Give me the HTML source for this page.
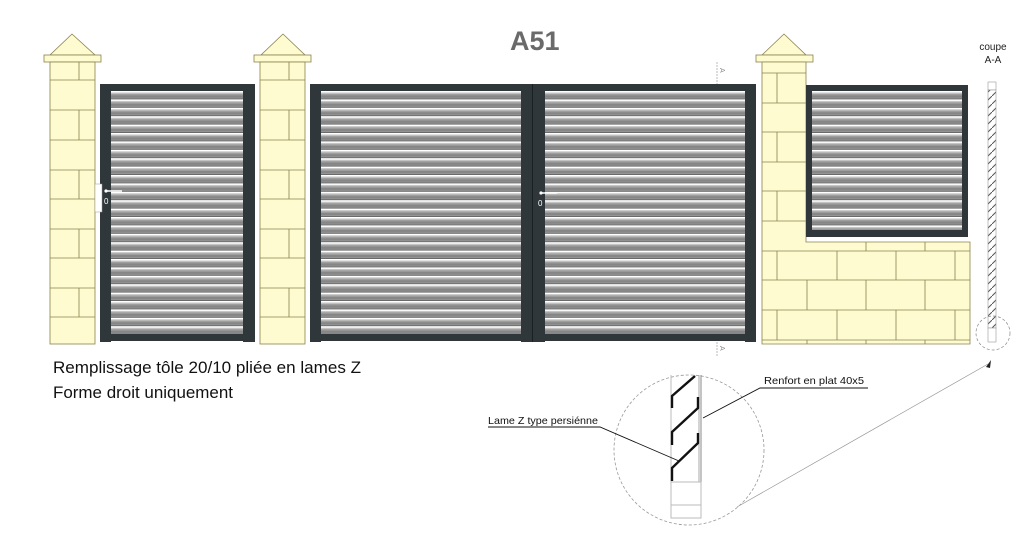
<!DOCTYPE html>
<html><head><meta charset="utf-8"><style>
html,body{margin:0;padding:0;background:#fff;width:1024px;height:539px;overflow:hidden}
svg{display:block}
text{font-family:"Liberation Sans","DejaVu Sans",sans-serif}
</style></head><body>
<svg width="1024" height="539" viewBox="0 0 1024 539" xmlns="http://www.w3.org/2000/svg">
<defs>
<pattern id="slat" x="0" y="91" width="10" height="8.4" patternUnits="userSpaceOnUse">
<rect width="10" height="8.4" fill="#9e9e9e"/>
<rect y="0" width="10" height="1.5" fill="#ffffff"/>
<rect y="1.5" width="10" height="1.3" fill="#c8c8c8"/>
<rect y="4.4" width="10" height="2.4" fill="#868686"/>
<rect y="7.4" width="10" height="1" fill="#6a6a6a"/>
</pattern>
<pattern id="hatch" width="8" height="8" patternUnits="userSpaceOnUse">
<rect width="8" height="8" fill="#fff"/>
<line x1="0" y1="8" x2="8" y2="0" stroke="#555" stroke-width="1"/>
</pattern>
</defs>

<text x="510" y="50" font-size="27" font-weight="bold" fill="#6a6a6a" font-family="DejaVu Sans,sans-serif">A51</text>

<!-- Pillar 1 -->
<g stroke="#8a8250" stroke-width="0.8" fill="#fdfbcf">
<polygon points="72,34 50,55 95,55"/>
<rect x="44" y="55" width="57" height="7"/>
<rect x="50" y="62" width="45" height="282"/>
</g>
<g stroke="#8a8250" stroke-width="0.8">
<line x1="50" y1="80" x2="95" y2="80"/><line x1="50" y1="110" x2="95" y2="110"/><line x1="50" y1="140" x2="95" y2="140"/><line x1="50" y1="170" x2="95" y2="170"/><line x1="50" y1="199" x2="95" y2="199"/><line x1="50" y1="229" x2="95" y2="229"/><line x1="50" y1="258" x2="95" y2="258"/><line x1="50" y1="288" x2="95" y2="288"/><line x1="50" y1="317" x2="95" y2="317"/>
<line x1="79" y1="62" x2="79" y2="80"/><line x1="79" y1="110" x2="79" y2="140"/><line x1="79" y1="170" x2="79" y2="199"/><line x1="79" y1="229" x2="79" y2="258"/><line x1="79" y1="288" x2="79" y2="317"/>
</g>

<!-- Pillar 2 -->
<g stroke="#8a8250" stroke-width="0.8" fill="#fdfbcf">
<polygon points="283,34 261,55 305,55"/>
<rect x="254" y="55" width="57" height="7"/>
<rect x="260" y="62" width="45" height="282"/>
</g>
<g stroke="#8a8250" stroke-width="0.8">
<line x1="260" y1="80" x2="305" y2="80"/><line x1="260" y1="110" x2="305" y2="110"/><line x1="260" y1="140" x2="305" y2="140"/><line x1="260" y1="170" x2="305" y2="170"/><line x1="260" y1="199" x2="305" y2="199"/><line x1="260" y1="229" x2="305" y2="229"/><line x1="260" y1="258" x2="305" y2="258"/><line x1="260" y1="288" x2="305" y2="288"/><line x1="260" y1="317" x2="305" y2="317"/>
<line x1="289" y1="62" x2="289" y2="80"/><line x1="289" y1="110" x2="289" y2="140"/><line x1="289" y1="170" x2="289" y2="199"/><line x1="289" y1="229" x2="289" y2="258"/><line x1="289" y1="288" x2="289" y2="317"/>
</g>

<!-- Pillar 3 + wall -->
<g stroke="#8a8250" stroke-width="0.8" fill="#fdfbcf">
<polygon points="784,34 762,55 806,55"/>
<rect x="756" y="55" width="57" height="7"/>
<path d="M762,62 H806 V242 H970 V344 H762 Z"/>
</g>
<g stroke="#8a8250" stroke-width="0.8">
<line x1="762" y1="73" x2="806" y2="73"/><line x1="762" y1="103" x2="806" y2="103"/><line x1="762" y1="132" x2="806" y2="132"/><line x1="762" y1="162" x2="806" y2="162"/><line x1="762" y1="191" x2="806" y2="191"/><line x1="762" y1="221" x2="806" y2="221"/>
<line x1="777" y1="73" x2="777" y2="103"/><line x1="777" y1="132" x2="777" y2="162"/><line x1="777" y1="191" x2="777" y2="221"/>
<line x1="762" y1="251" x2="970" y2="251"/>
<line x1="762" y1="280" x2="970" y2="280"/><line x1="762" y1="310" x2="970" y2="310"/><line x1="762" y1="340" x2="970" y2="340"/>
<line x1="866" y1="242" x2="866" y2="251"/><line x1="925" y1="242" x2="925" y2="251"/>
<line x1="777" y1="251" x2="777" y2="280"/><line x1="837" y1="251" x2="837" y2="280"/><line x1="896" y1="251" x2="896" y2="280"/><line x1="955" y1="251" x2="955" y2="280"/>
<line x1="807" y1="280" x2="807" y2="310"/><line x1="866" y1="280" x2="866" y2="310"/><line x1="925" y1="280" x2="925" y2="310"/>
<line x1="777" y1="310" x2="777" y2="340"/><line x1="837" y1="310" x2="837" y2="340"/><line x1="896" y1="310" x2="896" y2="340"/><line x1="955" y1="310" x2="955" y2="340"/>
<line x1="807" y1="340" x2="807" y2="344"/><line x1="866" y1="340" x2="866" y2="344"/><line x1="925" y1="340" x2="925" y2="344"/>
</g>

<!-- Gate 1 -->
<rect x="111" y="91" width="132" height="243" fill="url(#slat)"/>
<g fill="#2f373b">
<rect x="100" y="84" width="11" height="258"/>
<rect x="243" y="84" width="12" height="258"/>
<rect x="111" y="84" width="132" height="7"/>
<rect x="111" y="334" width="132" height="7"/>
</g>
<rect x="95" y="184" width="7" height="28" fill="#fff" stroke="#999" stroke-width="0.5"/>
<line x1="106" y1="191" x2="122" y2="191" stroke="#fff" stroke-width="1.5"/>
<circle cx="106" cy="191" r="1.6" fill="#fff"/>
<text x="104" y="204" font-size="8" fill="#fff">0</text>

<!-- Gate 2 -->
<rect x="321" y="91" width="424" height="243" fill="url(#slat)"/>
<g fill="#2f373b">
<rect x="310" y="84" width="11" height="258"/>
<rect x="521" y="84" width="11" height="258"/>
<rect x="533" y="84" width="12" height="258"/>
<rect x="745" y="84" width="11" height="258"/>
<rect x="321" y="84" width="424" height="7"/>
<rect x="321" y="334" width="424" height="7"/>
</g>
<line x1="532.5" y1="84" x2="532.5" y2="342" stroke="#1a1f22" stroke-width="1"/>
<line x1="541" y1="193" x2="557" y2="193" stroke="#fff" stroke-width="1.5"/>
<circle cx="541" cy="193" r="1.6" fill="#fff"/>
<text x="538" y="206" font-size="8" fill="#fff">0</text>

<!-- section markers -->
<line x1="717" y1="62" x2="717" y2="84" stroke="#bbb" stroke-dasharray="2,1"/>
<text x="720" y="72" font-size="7" fill="#888" transform="rotate(90 722 70)">A</text>
<line x1="717" y1="342" x2="717" y2="356" stroke="#bbb" stroke-dasharray="2,1"/>
<text x="720" y="350" font-size="7" fill="#888" transform="rotate(90 722 348)">A</text>

<!-- Fence panel -->
<rect x="812" y="91" width="150" height="142" fill="url(#slat)"/>
<g fill="#2f373b">
<rect x="806" y="85" width="162" height="6"/>
<rect x="806" y="230" width="162" height="7"/>
<rect x="806" y="85" width="6" height="152"/>
<rect x="962" y="85" width="6" height="152"/>
</g>

<!-- Coupe A-A -->
<text x="993" y="50" font-size="10" text-anchor="middle" fill="#222">coupe</text>
<text x="993" y="63" font-size="10" text-anchor="middle" fill="#222">A-A</text>
<rect x="988" y="82" width="8" height="8" fill="#fff" stroke="#999" stroke-width="0.6"/>
<rect x="988" y="90" width="8" height="238" fill="url(#hatch)" stroke="#999" stroke-width="0.6"/>
<rect x="988" y="328" width="8" height="14" fill="#fff" stroke="#999" stroke-width="0.6"/>
<circle cx="993" cy="333" r="17" fill="none" stroke="#888" stroke-width="0.7" stroke-dasharray="3,2"/>
<line x1="737" y1="507" x2="988" y2="364" stroke="#999" stroke-width="0.7"/>
<polygon points="991,360 986,367 990,368" fill="#222"/>

<!-- Detail circle -->
<circle cx="689" cy="450" r="75" fill="none" stroke="#999" stroke-width="0.8" stroke-dasharray="3,2"/>
<line x1="671" y1="375" x2="671" y2="482" stroke="#bbb" stroke-width="1"/>
<line x1="699" y1="375" x2="699" y2="482" stroke="#aaa" stroke-width="1"/>
<line x1="701" y1="375" x2="701" y2="482" stroke="#888" stroke-width="1"/>
<rect x="671" y="482" width="30" height="23" fill="#fff" stroke="#bbb" stroke-width="1"/>
<rect x="671" y="505" width="30" height="13" fill="#fff" stroke="#bbb" stroke-width="1"/>
<g stroke="#111" stroke-width="2.4" fill="none">
<polyline points="672,408 672,396 695,376"/>
<polyline points="672,445 672,432 698,408 698,397"/>
<polyline points="672,481 672,468 698,443 698,433"/>
</g>
<!-- labels -->
<text x="764" y="384" font-size="10.5" fill="#111" textLength="100" lengthAdjust="spacingAndGlyphs">Renfort en plat 40x5</text>
<polyline points="868,388 760,388 703,418" fill="none" stroke="#111" stroke-width="0.9"/>
<text x="488" y="424" font-size="10.5" fill="#111" textLength="110" lengthAdjust="spacingAndGlyphs">Lame Z type persiénne</text>
<polyline points="488,427 600,427 679,461" fill="none" stroke="#111" stroke-width="0.9"/>

<text x="53" y="373" font-size="17" fill="#111" textLength="308" lengthAdjust="spacingAndGlyphs">Remplissage tôle 20/10 pliée en lames Z</text>
<text x="53" y="398" font-size="17" fill="#111" textLength="180" lengthAdjust="spacingAndGlyphs">Forme droit uniquement</text>
</svg>
</body></html>
